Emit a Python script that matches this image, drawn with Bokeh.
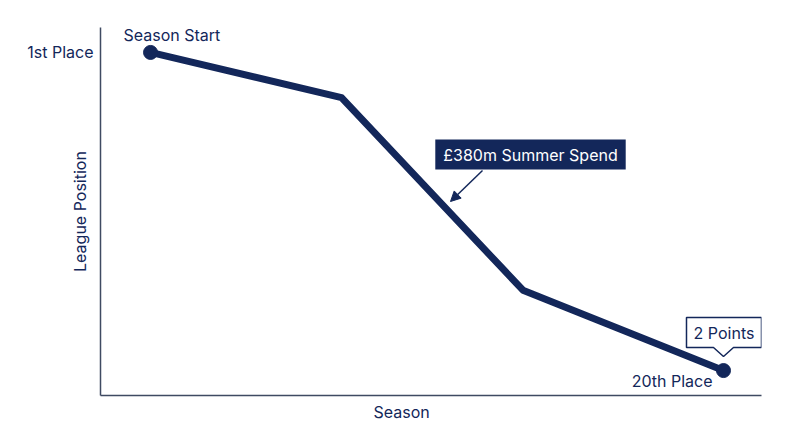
import math
from bokeh.plotting import figure
from bokeh.models import Range1d, FixedTicker, Label, Arrow, NormalHead, Title
from bokeh.embed import file_html
from bokeh.resources import INLINE

# ---- data ----
season = [0, 1, 1.95, 3]
position = [1, 3.7, 15.2, 20]
ytick_values = [1]
ytick_labels = ["1st Place"]

NAVY = "#13275a"
AXIS = "#3f4a62"
FONT = "Inter"
FS = "16px"

W, H = 784, 431
X0, X1 = -0.262, 3.199
Y0, Y1 = -0.49, 21.49
FL, FT, FR, FB = 100, 27, 761, 395  # frame edges in page pixels

p = figure(width=W, height=H, output_backend="svg", toolbar_location=None,
           x_range=Range1d(X0, X1), y_range=Range1d(Y1, Y0),
           min_border_left=FL, min_border_right=W - FR, min_border_top=FT,
           min_border_bottom=H - FB)
p.outline_line_color = None
p.grid.visible = False
p.background_fill_color = "white"
p.border_fill_color = "white"

XS = (FR - FL) / (X1 - X0)
YS = (FB - FT) / (Y1 - Y0)

def px2x(px):
    return X0 + (px - FL) / XS

def px2y(py):
    return Y0 + (py - FT) / YS

p.line(season, position, line_color=NAVY, line_width=7, line_join="round")
p.scatter([season[0], season[-1]], [position[0], position[-1]], size=14,
          fill_color=NAVY, line_color=NAVY)

# axes
for ax in (p.xaxis[0], p.yaxis[0]):
    ax.axis_line_color = AXIS
    ax.axis_line_width = 1.5
    ax.major_tick_line_color = None
    ax.minor_tick_line_color = None
    ax.major_tick_out = 0
    ax.major_tick_in = 0
    ax.minor_tick_out = 0
    ax.minor_tick_in = 0
    ax.major_label_text_font = FONT
    ax.major_label_text_font_size = FS
    ax.major_label_text_color = NAVY
    ax.axis_label_text_font = FONT
    ax.axis_label_text_font_size = FS
    ax.axis_label_text_font_style = "normal"
    ax.axis_label_text_color = NAVY

p.xaxis.ticker = FixedTicker(ticks=[])
p.yaxis.ticker = FixedTicker(ticks=ytick_values)
p.yaxis.major_label_overrides = {v: l for v, l in zip(ytick_values, ytick_labels)}
p.yaxis.major_label_standoff = 7
p.yaxis.axis_label = "League Position"
p.yaxis.axis_label_standoff = -66

p.add_layout(Title(text="Season", align="left", offset=273, text_font=FONT,
                   text_font_size=FS, text_font_style="normal", text_color=NAVY,
                   standoff=9), "below")

def lab(x, y, text, align, xo=0, yo=0, color=NAVY, **kw):
    l = Label(x=x, y=y, text=text, text_align=align, text_baseline="middle",
              x_offset=xo, y_offset=yo, text_font=FONT, text_font_size=FS,
              text_color=color, **kw)
    p.add_layout(l)
    return l

lab(season[0], position[0], "Season Start", "left", -27, 17)
lab(season[-1], position[-1], "20th Place", "right", -11, -10)

# "2 Points" callout box with pointer
bx, by = season[-1], position[-1]
box_px = [(-37, -53), (38, -53), (38, -23), (10, -23), (0, -14), (-10, -23), (-37, -23)]
p.patch([bx + dx / XS for dx, dy in box_px], [by + dy / YS for dx, dy in box_px],
        fill_color="white", line_color=NAVY, line_width=1.5)
lab(bx, by, "2 Points", "center", 0.5, 38)

# spend annotation
lab(px2x(530), px2y(154), "£380m Summer Spend", "center", color="white",
    background_fill_color=NAVY, padding=(8, 5))
p.add_layout(Arrow(x_start=px2x(482), y_start=px2y(170), x_end=px2x(450), y_end=px2y(201),
                   line_color=NAVY, line_width=1.5,
                   end=NormalHead(size=10, fill_color=NAVY, line_color=NAVY)))

open("out.html", "w").write(file_html(p, INLINE))
